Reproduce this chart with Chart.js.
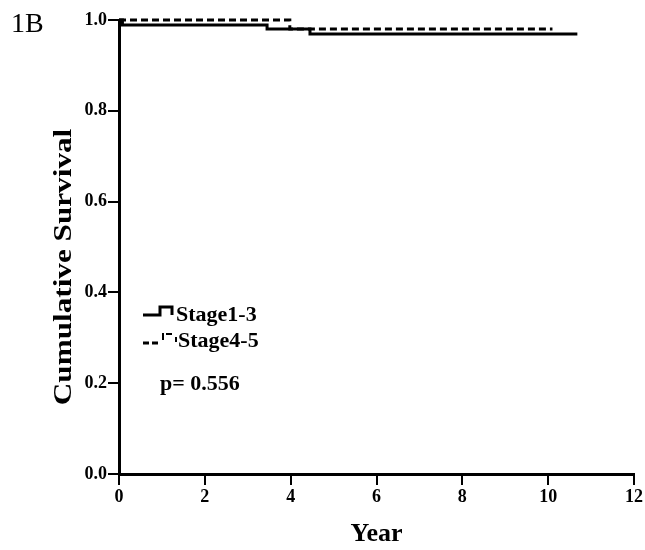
<!DOCTYPE html>
<html>
<head>
<meta charset="utf-8">
<script src="https://cdn.jsdelivr.net/npm/chart.js@4"></script>
<style>
  html, body { margin: 0; padding: 0; background: #fff; }
  #wrap { width: 645px; height: 550px; }
</style>
</head>
<body>
<div id="wrap"><canvas id="km"></canvas></div>
<script>
const yearTicks = [0, 2, 4, 6, 8, 10, 12];
const survivalTicks = [0.0, 0.2, 0.4, 0.6, 0.8, 1.0];

// Kaplan-Meier steps (year, cumulative survival)
const stage13Years = [0, 0.08, 3.45, 4.45, 10.68];
const stage13Surv = [1.0, 0.989, 0.980, 0.969, 0.969];
const stage45Years = [0, 3.98, 10.1];
const stage45Surv = [1.0, 0.980, 0.980];

const legendLabels = ["Stage1-3", "Stage4-5"];
const pValueText = "p= 0.556";
const panelLabel = "1B";
const yTitle = "Cumulative Survival";
const xTitle = "Year";

function toPoints(xs, ys) {
  return xs.map(function(x, i) { return { x: x, y: ys[i] }; });
}

const serif = "'Liberation Serif', 'DejaVu Serif', serif";

const textPlugin = {
  id: "kmText",
  afterDraw: function(chart) {
    const c = chart.ctx;
    c.save();
    c.fillStyle = "#000";
    c.strokeStyle = "#000";
    c.textBaseline = "middle";
    c.font = "28px " + serif;
    c.fillText(panelLabel, 11, 25);

    // y axis title: the figure's lettering is narrow and tall, so stretch it along the axis
    c.save();
    c.translate(63, 267);
    c.rotate(-Math.PI / 2);
    c.scale(1.2, 1);
    c.textAlign = "center";
    c.font = "bold 26px " + serif;
    c.fillText(yTitle, 0, 1);
    c.restore();

    // legend
    c.lineWidth = 3;
    c.setLineDash([]);
    c.beginPath();
    c.moveTo(143, 315); c.lineTo(160, 315); c.lineTo(160, 307); c.lineTo(172, 307); c.lineTo(172, 315);
    c.stroke();
    c.beginPath();
    c.moveTo(143, 343); c.lineTo(149, 343);
    c.moveTo(152, 343); c.lineTo(158, 343);
    c.stroke();
    c.lineWidth = 2;
    c.beginPath();
    c.moveTo(163, 333); c.lineTo(163, 340);
    c.moveTo(166, 334); c.lineTo(172, 334);
    c.moveTo(176, 337); c.lineTo(176, 342);
    c.stroke();

    c.font = "bold 22px " + serif;
    c.fillText(legendLabels[0], 176, 315);
    c.fillText(legendLabels[1], 178, 341);
    c.fillText(pValueText, 160, 384);
    c.restore();
  }
};

const ctx = document.getElementById("km").getContext("2d");
const km = new Chart(ctx, {
  type: "line",
  data: {
    datasets: [{
      label: legendLabels[0],
      data: toPoints(stage13Years, stage13Surv),
      borderColor: "#000",
      borderWidth: 3,
      stepped: "before",
      pointRadius: 0,
      fill: false,
      clip: 6
    }, {
      label: legendLabels[1],
      data: toPoints(stage45Years, stage45Surv),
      borderColor: "#000",
      borderWidth: 3,
      borderDash: [7, 4],
      stepped: "before",
      pointRadius: 0,
      fill: false,
      clip: 6
    }]
  },
  options: {
    responsive: true,
    maintainAspectRatio: false,
    animation: false,
    layout: { padding: { top: 20, right: 11, left: 0, bottom: 0 } },
    plugins: {
      legend: { display: false },
      tooltip: { enabled: false }
    },
    scales: {
      x: {
        type: "linear",
        min: 0,
        max: 12,
        afterBuildTicks: function(scale) { scale.ticks = yearTicks.map(function(v) { return { value: v }; }); },
        afterFit: function(scale) { scale.height = 76; },
        border: { display: true, color: "#000", width: 3 },
        grid: { drawOnChartArea: false, drawTicks: true, tickLength: 11, color: "#000", lineWidth: 2 },
        ticks: { color: "#000", padding: 2, font: { family: serif, size: 18, weight: "bold" } },
        title: {
          display: true, text: xTitle, color: "#000",
          font: { family: serif, size: 26, weight: "bold" },
          padding: { top: 6, bottom: 0 }
        }
      },
      y: {
        type: "linear",
        min: 0,
        max: 1,
        afterBuildTicks: function(scale) { scale.ticks = survivalTicks.map(function(v) { return { value: v }; }); },
        afterFit: function(scale) { scale.width = 119; },
        border: { display: true, color: "#000", width: 3 },
        grid: { drawOnChartArea: false, drawTicks: true, tickLength: 11, color: "#000", lineWidth: 2 },
        ticks: {
          color: "#000", padding: 1,
          font: { family: serif, size: 18, weight: "bold" },
          callback: function(v) { return v.toFixed(1); }
        }
      }
    }
  },
  plugins: [textPlugin]
});
</script>
</body>
</html>
